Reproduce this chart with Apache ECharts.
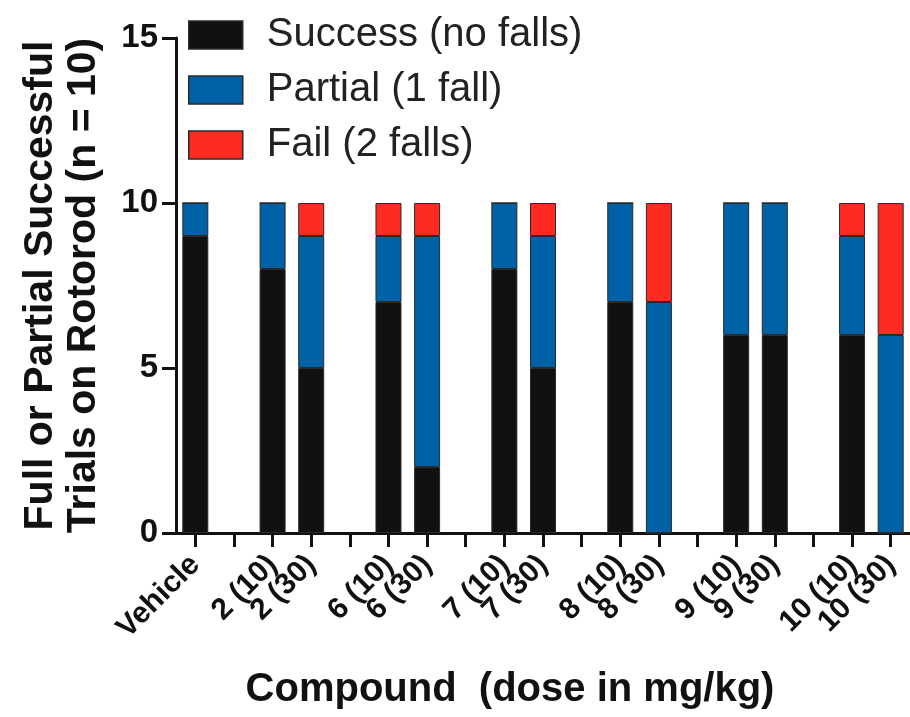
<!DOCTYPE html>
<html>
  <head>
    <meta charset="utf-8">
    <title>Rotorod</title>
    <style type="text/css">
    html,body{margin:0;padding:0;background:#fff;}
    #main{width:910px;height:717px;}
    </style>
    <script src="https://cdn.jsdelivr.net/npm/echarts@6/dist/echarts.min.js"></script>
  </head>
  <body>
    <div id="main"></div>
    <script type="text/javascript">
      // groups separated by empty slots, like the original figure
      var categories = ['Vehicle', '', '2 (10)', '2 (30)', '', '6 (10)', '6 (30)', '', '7 (10)', '7 (30)', '',
                        '8 (10)', '8 (30)', '', '9 (10)', '9 (30)', '', '10 (10)', '10 (30)'];
      var success = [9, '-', 8, 5, '-', 7, 2, '-', 8, 5, '-', 7, 0, '-', 6, 6, '-', 6, 0];
      var partial = [1, '-', 2, 4, '-', 2, 7, '-', 2, 4, '-', 3, 7, '-', 4, 4, '-', 3, 6];
      var fail    = [0, '-', 0, 1, '-', 1, 1, '-', 0, 1, '-', 0, 3, '-', 0, 0, '-', 1, 4];
      var yTicks = [0, 5, 10, 15];

      var myChart = echarts.init(document.getElementById('main'));
      var font = 'Liberation Sans, Arial, sans-serif';
      function bar(name, data) {
        return {
          name: name,
          type: 'bar',
          stack: 'total',
          barWidth: 26,
          data: data,
          itemStyle: {borderColor: '#2a2a2a', borderWidth: 1},
          emphasis: {disabled: true}
        };
      }
      var option = {
        animation: false,
        color: ['#111111', '#0062a6', '#ff2b23'],
        grid: {left: 176, right: 0, top: 38, bottom: 184, containLabel: false},
        legend: {
          orient: 'vertical',
          left: 183,
          top: 10,
          itemWidth: 54,
          itemHeight: 28,
          itemGap: 15,
          icon: 'rect',
          selectedMode: false,
          itemStyle: {borderColor: '#2a2a2a', borderWidth: 1.5},
          textStyle: {fontFamily: font, fontSize: 40, color: '#222', lineHeight: 40, padding: [0, 0, 0, 19]},
          data: ['Success (no falls)', 'Partial (1 fall)', 'Fail (2 falls)']
        },
        xAxis: {
          type: 'category',
          data: categories,
          name: 'Compound  (dose in mg/kg)',
          nameLocation: 'middle',
          nameGap: 137,
          nameTextStyle: {fontFamily: font, fontSize: 40, fontWeight: 'bold', color: '#111',
                          verticalAlign: 'top', padding: [0, 66, 0, 0]},
          axisLine: {show: true, lineStyle: {color: '#111', width: 3}},
          axisTick: {show: true, inside: false, alignWithLabel: true, length: 14,
                     lineStyle: {color: '#111', width: 3}},
          axisLabel: {interval: 0, rotate: 45, margin: 27, fontFamily: font, fontSize: 30,
                      fontWeight: 'bold', color: '#111'}
        },
        yAxis: {
          type: 'value',
          min: yTicks[0],
          max: yTicks[yTicks.length - 1],
          interval: 5,
          name: 'Full or Partial Successful\nTrials on Rotorod (n = 10)',
          nameLocation: 'middle',
          nameGap: 71,
          nameTextStyle: {fontFamily: font, fontSize: 41, fontWeight: 'bold', color: '#111', lineHeight: 43},
          splitLine: {show: false},
          axisLine: {show: true, lineStyle: {color: '#111', width: 3}},
          axisTick: {show: true, inside: false, length: 14, lineStyle: {color: '#111', width: 3}},
          axisLabel: {margin: 18, fontFamily: font, fontSize: 33, fontWeight: 'bold', color: '#111'}
        },
        series: [
          bar('Success (no falls)', success),
          bar('Partial (1 fall)', partial),
          bar('Fail (2 falls)', fail)
        ]
      };
      myChart.setOption(option);
    </script>
  </body>
</html>
